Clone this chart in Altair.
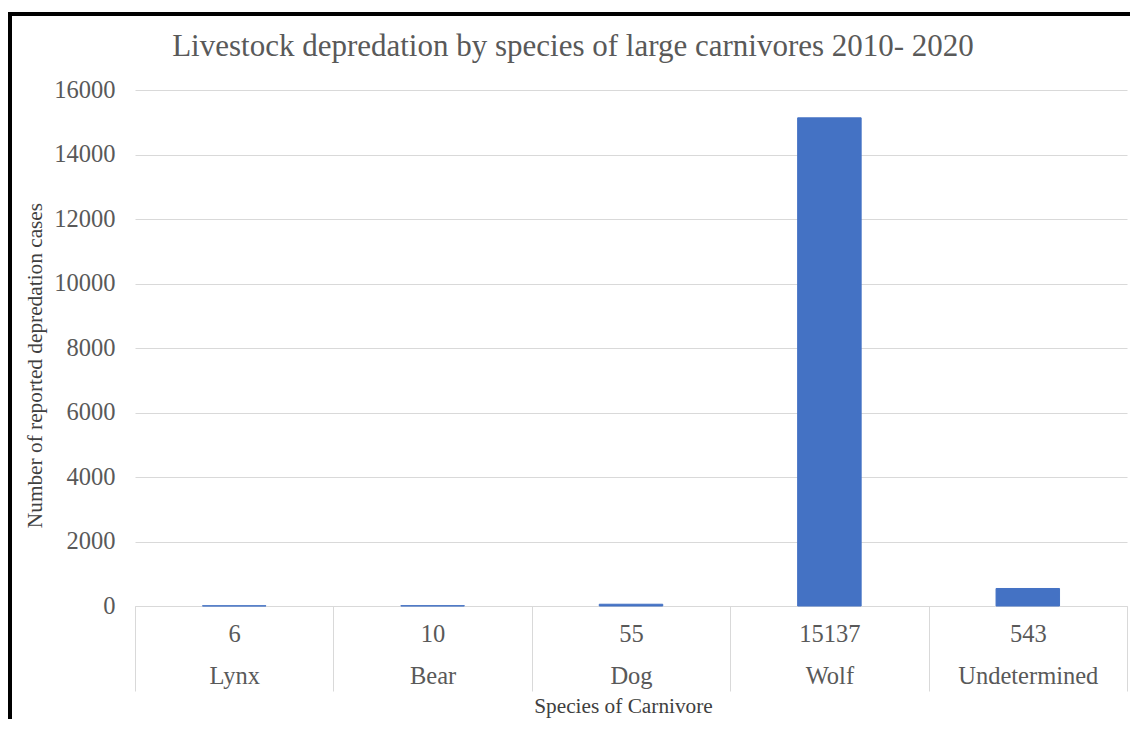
import altair as alt
import pandas as pd

# ---- data ----
species = ["Lynx", "Bear", "Dog", "Wolf", "Undetermined"]
cases = [6, 10, 55, 15137, 543]
y_ticks = [0, 2000, 4000, 6000, 8000, 10000, 12000, 14000, 16000]

title_text = "Livestock depredation by species of large carnivores 2010- 2020"
x_title = "Species of Carnivore"
y_title = "Number of reported depredation cases"

df = pd.DataFrame({"species": species, "cases": cases})

W, H = 992, 516
FONT = "Liberation Serif"
GREY = "#595959"
GRID = "#d9d9d9"
BLUE = "#4472C4"

base = alt.Chart(df).transform_calculate(
    key="toString(datum.cases) + '|' + datum.species"
)

x_enc = alt.X(
    "key:N",
    sort=None,
    scale=alt.Scale(paddingInner=0, paddingOuter=0),
    axis=alt.Axis(
        title=x_title,
        titleFont=FONT,
        titleFontSize=21.3,
        titleFontWeight="normal",
        titleColor="#404040",
        titleX=488,
        titleY=100,
        titleBaseline="middle",
        labelExpr="isValid(datum.value) ? split(datum.value, '|') : ''",
        labelFont=FONT,
        labelFontSize=24.5,
        labelColor=GREY,
        labelAngle=0,
        labelBaseline="top",
        labelLineHeight=42,
        labelPadding=-69,
        tickBand="extent",
        tickSize=85,
        tickColor=GRID,
        tickWidth=1,
        domainColor=GRID,
        domainWidth=1,
        grid=False,
    ),
)

y_enc = alt.Y(
    "cases:Q",
    scale=alt.Scale(domain=[0, 16000], nice=False),
    axis=alt.Axis(
        values=y_ticks,
        format="d",
        title=y_title,
        titleFont=FONT,
        titleFontSize=21.3,
        titleFontWeight="normal",
        titleColor="#404040",
        titleX=-100,
        titleY=275,
        titleAlign="center",
        titleBaseline="middle",
        labelFont=FONT,
        labelFontSize=24.5,
        labelColor=GREY,
        labelPadding=20,
        labelBaseline="middle",
        domain=False,
        ticks=False,
        grid=True,
        gridColor=GRID,
        gridWidth=1,
    ),
)

bars = base.mark_bar(
    width=alt.RelativeBandSize(0.32),
    color=BLUE,
    stroke=BLUE,
    strokeWidth=1,
).encode(x=x_enc, y=y_enc)

frame_data = alt.Data(values=[{"f": 1}])
frame_left = alt.Chart(frame_data).mark_rule(color="black", strokeWidth=4).encode(
    x=alt.value(-125), y=alt.value(-78), y2=alt.value(H + 114)
)
frame_top = alt.Chart(frame_data).mark_rule(color="black", strokeWidth=4).encode(
    x=alt.value(-127), x2=alt.value(W + 5), y=alt.value(-76)
)

chart = (
    alt.layer(bars, frame_left, frame_top)
    .properties(
        width=W,
        height=H,
        background="white",
        title=alt.TitleParams(
            text=title_text,
            font=FONT,
            fontSize=31,
            fontWeight="normal",
            color=GREY,
            anchor="middle",
            frame="group",
            dx=-58,
            dy=57,
        ),
        autosize=alt.AutoSizeParams(type="none"),
        padding={"left": 127, "top": 82, "right": 3, "bottom": 113},
    )
    .configure_view(stroke="transparent", strokeWidth=0)
)

chart.save("out.html", embed_options={"renderer": "svg", "actions": False})
